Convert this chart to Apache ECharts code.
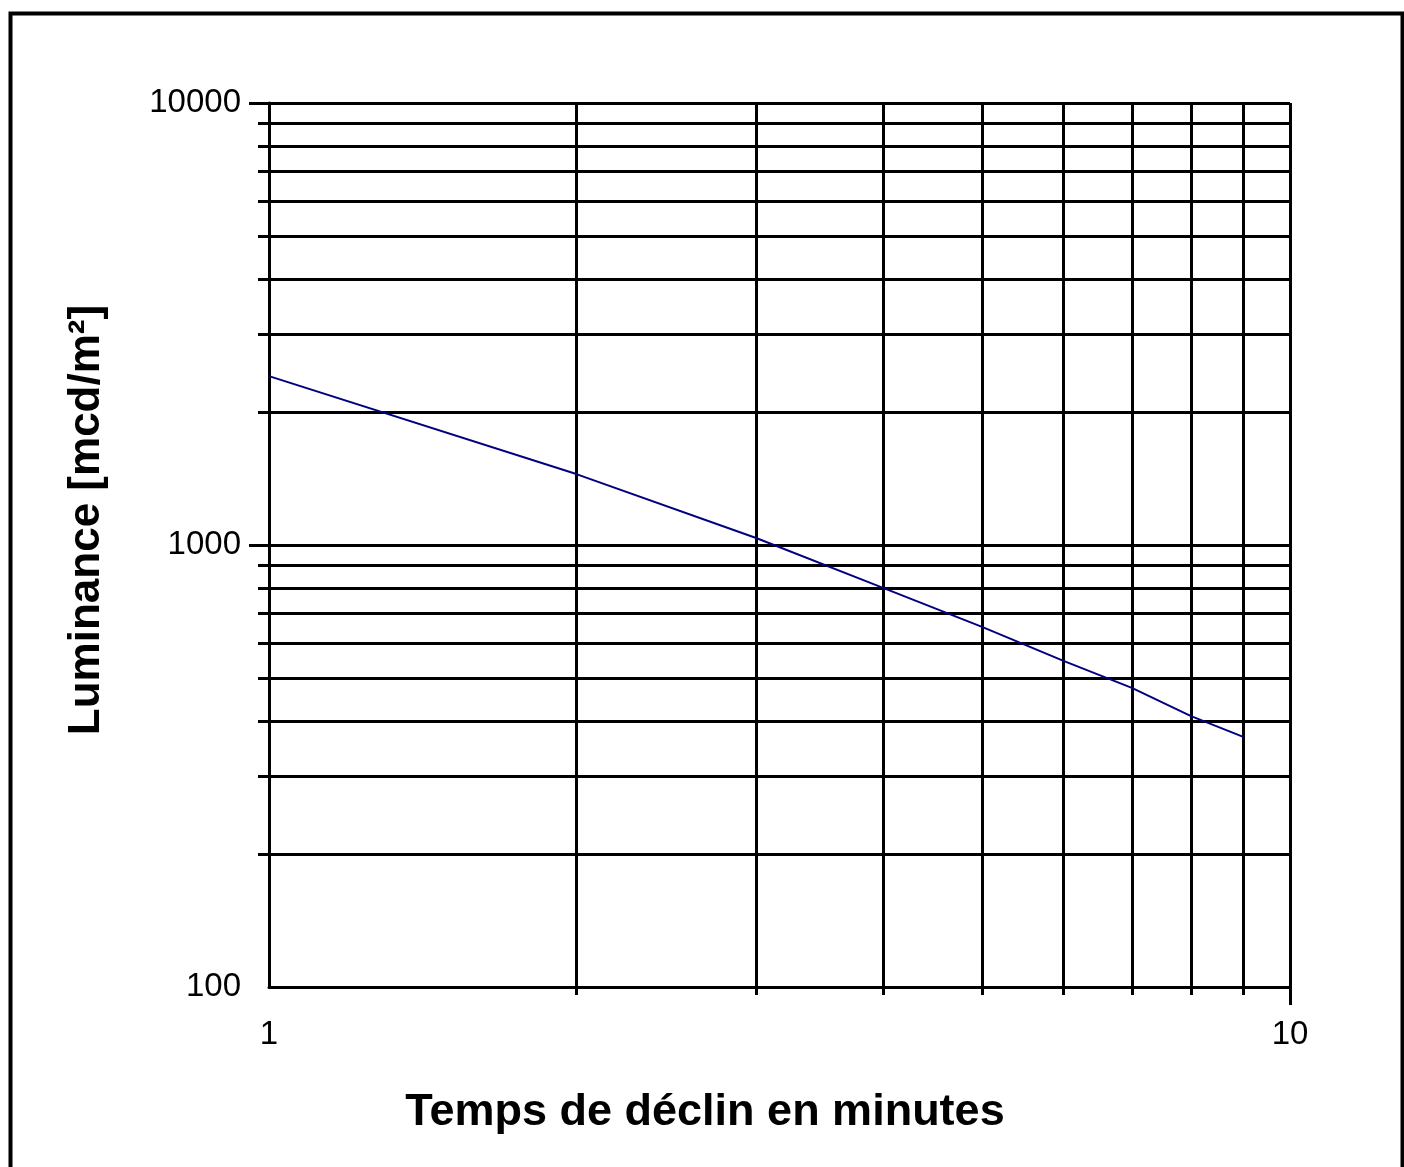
<!DOCTYPE html>
<html><head><meta charset="utf-8">
<script src="https://cdn.jsdelivr.net/npm/echarts@6/dist/echarts.min.js"></script>
<style>html,body{margin:0;padding:0;background:#fff}#c{width:1404px;height:1167px}</style>
</head><body><div id="c"></div>
<script>
const times = [1, 2, 3, 4, 5, 6, 7, 8, 9];
const luminance = [2410, 1447, 1037, 799, 652, 547, 475, 410, 368];
const xMinorTicks = [2, 3, 4, 5, 6, 7, 8, 9, 10];
const xMajorTicks = [10];
const xLabelValues = [1, 10];
const yMinorTicks = [200, 300, 400, 500, 600, 700, 800, 900, 1000, 2000, 3000, 4000, 5000, 6000, 7000, 8000, 9000, 10000];
const yMajorTicks = [1000, 10000];
const yLabelValues = [100, 1000, 10000];
const xTitle = 'Temps de déclin en minutes';
const yTitle = 'Luminance [mcd/m²]';

const chart = echarts.init(document.getElementById('c'));
const black = '#000';
const labelFont = { color: black, fontFamily: '"Liberation Sans", Arial, sans-serif', fontSize: 33,
  formatter: function (v) { return String(Math.round(v)); } };

function xAxisDef(ticks, len, withLabels) {
  return {
    type: 'log', logBase: 10, min: 1, max: 10, position: 'bottom',
    axisLine: { show: withLabels, lineStyle: { color: black, width: 3 } },
    axisTick: { show: true, customValues: ticks, length: len, lineStyle: { color: black, width: 3 } },
    splitLine: { show: true, lineStyle: { color: black, width: 3 } },
    minorTick: { show: false }, minorSplitLine: { show: false },
    axisLabel: withLabels ? Object.assign({ show: true, customValues: xLabelValues, margin: 31 }, labelFont) : { show: false }
  };
}
function yAxisDef(ticks, len, withLabels) {
  return {
    type: 'log', logBase: 10, min: 100, max: 10000, position: 'left',
    axisLine: { show: withLabels, lineStyle: { color: black, width: 3 } },
    axisTick: { show: true, customValues: ticks, length: len, lineStyle: { color: black, width: 3 } },
    splitLine: { show: true, lineStyle: { color: black, width: 3 } },
    minorTick: { show: false }, minorSplitLine: { show: false },
    axisLabel: withLabels ? Object.assign({ show: true, customValues: yLabelValues, margin: 28 }, labelFont) : { show: false }
  };
}

chart.setOption({
  animation: false,
  backgroundColor: '#fff',
  grid: { left: 269, right: 114, top: 103, bottom: 180, containLabel: false },
  xAxis: [xAxisDef(xMinorTicks, 8, true), xAxisDef(xMajorTicks, 18, false)],
  yAxis: [yAxisDef(yMinorTicks, 11, true), yAxisDef(yMajorTicks, 20, false)],
  series: [{
    type: 'line', xAxisIndex: 0, yAxisIndex: 0,
    data: times.map((t, i) => [t, luminance[i]]),
    showSymbol: false, symbol: 'none', smooth: false,
    lineStyle: { color: '#000080', width: 2 }, z: 10
  }],
  graphic: [
    { type: 'rect', left: 8, top: 11, shape: { width: 1392, height: 1170 },
      style: { fill: 'none', stroke: black, lineWidth: 4 }, silent: true },
    { type: 'text', x: 705, y: 1113,
      style: { text: xTitle, fill: black, font: 'bold 45px "Liberation Sans", Arial, sans-serif',
               textAlign: 'center', textVerticalAlign: 'middle', align: 'center', verticalAlign: 'middle' } },
    { type: 'text', x: 87, y: 520, rotation: Math.PI / 2,
      style: { text: yTitle, fill: black, font: 'bold 44px "Liberation Sans", Arial, sans-serif',
               textAlign: 'center', textVerticalAlign: 'middle', align: 'center', verticalAlign: 'middle' } }
  ]
});
</script>
</body></html>
